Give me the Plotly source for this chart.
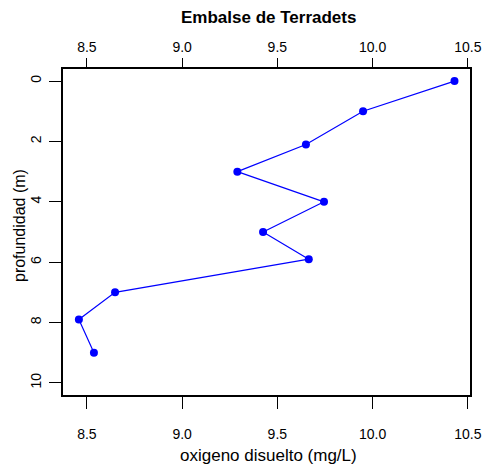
import plotly.graph_objects as go

oxigeno = [10.43, 9.95, 9.65, 9.29, 9.745, 9.425, 9.665, 8.648, 8.458, 8.537]
profundidad = [0.0, 1.0, 2.1, 3.0, 4.0, 5.0, 5.9, 7.0, 7.9, 9.0]
x_ticks = [8.5, 9.0, 9.5, 10.0, 10.5]
x_labels = ["8.5", "9.0", "9.5", "10.0", "10.5"]
y_ticks = [0, 2, 4, 6, 8, 10]
y_labels = ["0", "2", "4", "6", "8", "10"]

FONT = "Liberation Sans, Arial, sans-serif"
xr = [8.3746, 10.5115]
yr = [10.4, -0.4]

fig = go.Figure()
fig.add_trace(go.Scatter(
    x=oxigeno, y=profundidad, mode="lines+markers",
    line=dict(color="#0000FF", width=1.2),
    marker=dict(color="#0000FF", size=8, line=dict(width=0)),
    showlegend=False,
))
fig.add_trace(go.Scatter(x=[None], y=[None], xaxis="x2", yaxis="y", showlegend=False))

axfont = dict(family=FONT, size=14, color="black")
fig.update_layout(
    width=486, height=468,
    margin=dict(l=63, r=16, t=69, b=73, autoexpand=False),
    paper_bgcolor="white", plot_bgcolor="white",
    font=dict(family=FONT, color="black"),
    xaxis=dict(range=xr, tickvals=x_ticks, ticktext=x_labels, ticks="outside",
               ticklen=12, tickwidth=1.2, tickcolor="black", showline=True,
               linecolor="black", linewidth=1.5, mirror=True, showgrid=False,
               zeroline=False, tickfont=axfont, ticklabelstandoff=13,
               automargin=False),
    xaxis2=dict(range=xr, tickvals=x_ticks, ticktext=x_labels, ticks="outside",
                ticklen=10, tickwidth=1.2, tickcolor="black", overlaying="x",
                side="top", showgrid=False, zeroline=False, tickfont=axfont,
                ticklabelstandoff=0, automargin=False),
    yaxis=dict(range=yr, tickvals=y_ticks, ticktext=y_labels, ticks="outside",
               ticklen=12, tickwidth=1.2, tickcolor="black", showline=True,
               linecolor="black", linewidth=1.5, mirror=True, showgrid=False,
               zeroline=False, tickfont=axfont, tickangle=-90, ticklabelstandoff=3,
               automargin=False),
    annotations=[
        dict(text="<b>Embalse de Terradets</b>", xref="paper",
             yref="paper", showarrow=False, font=dict(family=FONT, size=17)),
        dict(text="oxigeno disuelto (mg/L)", xref="paper", yref="paper",
             showarrow=False, font=dict(family=FONT, size=17)),
        dict(text="profundidad (m)", xref="paper", yref="paper", textangle=-90,
             showarrow=False, font=dict(family=FONT, size=16)),
    ],
)
plot_h = 468 - 69 - 73
plot_w = 486 - 63 - 16
def py(pix):
    return (468 - 73 - pix) / plot_h
def px(pix):
    return (pix - 63) / plot_w
anns = list(fig.layout.annotations)
anns[0].update(y=py(17), x=px(268), yanchor="middle", xanchor="center")
anns[1].update(y=py(455), x=px(268), yanchor="middle", xanchor="center")
anns[2].update(x=px(19), y=py(226), xanchor="center", yanchor="middle")
fig.layout.annotations = anns

fig.write_html("out.html", config={"displayModeBar": False},
               post_script="document.body.style.margin='0';document.body.style.overflow='hidden';")
